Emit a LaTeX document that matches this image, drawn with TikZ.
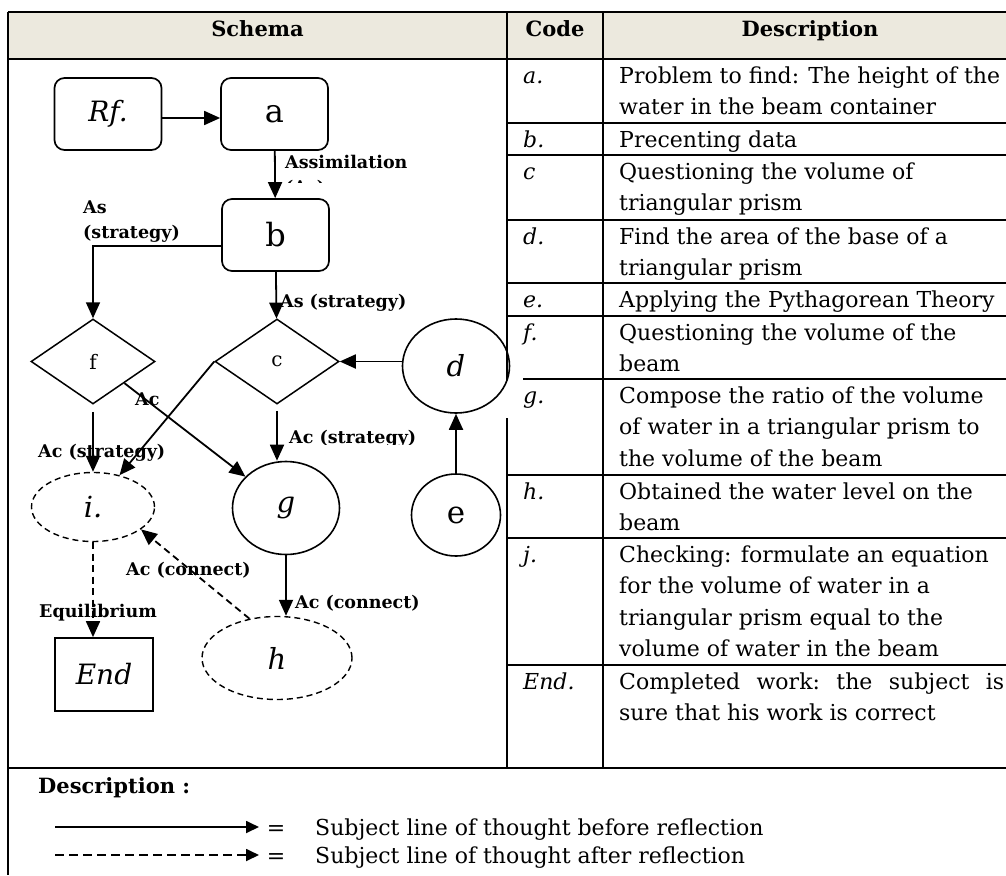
\documentclass[tikz,border=0pt]{standalone}
\usepackage{fontspec}
\setmainfont{DejaVu Serif}
\usetikzlibrary{arrows.meta,shapes.geometric,positioning}

\definecolor{headfill}{RGB}{236,233,222}

\tikzset{
  flow/.style={line width=1.8pt, -{Triangle[length=16pt,width=14pt]}},
  flowdash/.style={flow, dash pattern=on 7pt off 4.5pt},
  box/.style={draw, line width=1.7pt, rounded corners=10pt, minimum width=107pt,
    minimum height=72pt, inner sep=0pt, font=\fontsize{32}{34}\selectfont},
  choice/.style={diamond, draw, line width=1.5pt, aspect=1.45, minimum width=124pt,
    minimum height=85pt, inner sep=0pt, font=\fontsize{20}{22}\selectfont},
  state/.style={ellipse, draw, line width=1.6pt, inner sep=0pt, font=\fontsize{29}{31}\selectfont},
  revisit/.style={state, line width=1.4pt, dash pattern=on 6pt off 4pt},
  lbl/.style={anchor=base west, align=left, inner sep=0pt, font=\bfseries\fontsize{17.5}{25}\selectfont},
  head/.style={anchor=base, inner sep=0pt, font=\bfseries\fontsize{21}{24}\selectfont},
  cell/.style={anchor=base west, align=left, inner sep=0pt, font=\fontsize{22}{31.5}\selectfont},
  code/.style={cell, font=\itshape\fontsize{22}{31.5}\selectfont},
  rule/.style={line width=1.7pt}
}

\begin{document}
\begin{tikzpicture}[x=1pt, y=-1pt]
  \useasboundingbox (0,0) rectangle (1006,875);

  % table frame
  \fill[headfill] (8,12) rectangle (1006,59);
  \draw[rule] (8,12) -- (1006,12);
  \draw[rule] (8,12) -- (8,875);
  \draw[rule] (8,59) -- (1006,59);
  \draw[rule] (8,768) -- (1006,768);
  \draw[rule] (507,12) -- (507,380);
  \draw[rule] (507,418) -- (507,768);
  \draw[rule] (603,12) -- (603,768);
  \draw[rule] (507,123) -- (1006,123);
  \draw[rule] (507,155) -- (1006,155);
  \draw[rule] (507,220) -- (1006,220);
  \draw[rule] (507,283) -- (1006,283);
  \draw[rule] (507,316) -- (1006,316);
  \draw[rule] (523,379) -- (1006,379);
  \draw[rule] (507,475) -- (1006,475);
  \draw[rule] (507,538) -- (1006,538);
  \draw[rule] (507,665) -- (1006,665);

  \node[head] (hschema) at (257.5,37) {Schema};
  \node[head] (hcode) at (555,37) {Code};
  \node[head] (hdesc) at (810,37) {Description};

  % schema
  \node[box, font=\itshape\fontsize{28}{30}\selectfont] (Rf) at (108,114) {Rf.};
  \node[box] (a) at (274.5,114) {a};
  \node[box] (b) at (275.5,235) {b};
  \node[choice] (f) at (93,361.5) {f};
  \node[choice] (c) at (277,361.5) {c};
  \node[state, minimum width=107pt, minimum height=94pt] (d) at (456,366) {\itshape d};
  \node[state, minimum width=89pt, minimum height=82pt, font=\fontsize{31}{33}\selectfont] (e) at (456,515) {e};
  \node[state, minimum width=107pt, minimum height=93pt] (g) at (286,508) {\itshape g};
  \node[revisit, minimum width=123pt, minimum height=69pt] (i) at (93,507) {\itshape i.};
  \node[revisit, minimum width=150pt, minimum height=83pt] (h) at (277,658) {\itshape h};
  \node[draw, line width=1.7pt, minimum width=98pt, minimum height=73pt, inner sep=0pt,
    font=\itshape\fontsize{28}{30}\selectfont] (End) at (104,674.5) {End};

  \draw[flow] ([yshift=-4pt]Rf.east) -- ([yshift=-4pt]a.west);
  \draw[flow] (a) -- (b);
  \draw[flow] ([yshift=-11pt]b.west) -| (f.north);
  \draw[flow] (b) -- (c);
  \draw[flow] (d.west |- c.east) -- (c.east);
  \draw[flow] (e) -- (d);
  \draw[flow, shorten <=7pt] (f.south) -- (i.north);
  \draw[flow] (f.south east) -- (g);
  \draw[flow] (c.west) -- (i);
  \draw[flow, shorten <=6pt] (c.south) -- (c.south |- g.north);
  \draw[flow] (g.south) -- (g.south |- h.north);
  \draw[flowdash] (h.125) -- (i.-25);
  \draw[flowdash] (i.south) -- (i.south |- End.north);

  \begin{scope}
    \clip (280,140) rectangle (430,182);
    \node[lbl] (assim) at (285,193) {Assimilation\\(As)};
  \end{scope}
  \node[lbl] (asb) at (83,238) {As\\(strategy)};
  \node[lbl] (asc) at (280,307) {As (strategy)};
  \node[lbl] (acf) at (135,405) {Ac};
  \node[lbl] (acfi) at (38,457) {Ac (strategy)};
  \begin{scope}
    \clip (285,415) rectangle (430,444);
    \node[lbl] (acg) at (289,443) {Ac (strategy)};
  \end{scope}
  \node[lbl] (aci) at (126,575) {Ac (connect)};
  \node[lbl] (equi) at (39,617) {Equilibrium};
  \node[lbl] (ach) at (295,608) {Ac (connect)};

  % codes and descriptions (base = last line)
  \node[code] (ca) at (523,83) {a.};
  \node[cell] (ta) at (619,114.5) {Problem to find: The height of the\\water in the beam container};
  \node[code] (cb) at (523,147) {b.};
  \node[cell] (tb) at (619,147) {Precenting data};
  \node[code] (cc) at (523,179) {c};
  \node[cell] (tc) at (619,210.5) {Questioning the volume of\\triangular prism};
  \node[code] (cd) at (523,244) {d.};
  \node[cell] (td) at (619,275.5) {Find the area of the base of a\\triangular prism};
  \node[code] (ce) at (523,307) {e.};
  \node[cell] (te) at (619,307) {Applying the Pythagorean Theory};
  \node[code] (cf) at (523,340) {f.};
  \node[cell] (tf) at (619,371.5) {Questioning the volume of the\\beam};
  \node[code] (cg) at (523,403) {g.};
  \node[cell] (tg) at (619,466) {Compose the ratio of the volume\\of water in a triangular prism to\\the volume of the beam};
  \node[code] (ch) at (523,499) {h.};
  \node[cell] (th) at (619,530.5) {Obtained the water level on the\\beam};
  \node[code] (cj) at (523,562) {j.};
  \node[cell] (tj) at (619,656.5) {Checking: formulate an equation\\for the volume of water in a\\triangular prism equal to the\\volume of water in the beam};
  \node[code] (cend) at (523,689) {End.};
  \node[cell] (tend) at (619,720.5) {\hbox to 385pt{Completed\hfil work:\hfil the\hfil subject\hfil is}\\sure that his work is correct};

  % legend
  \node[anchor=base west, inner sep=0pt, font=\bfseries\fontsize{21}{24}\selectfont] (legend) at (38,793) {Description :};
  \coordinate (s0) at (55,827);
  \coordinate (s1) at (259,827);
  \coordinate (t0) at (55,855);
  \coordinate (t1) at (259,855);
  \draw[flow, -{Triangle[length=13pt,width=12pt]}] (s0) -- (s1);
  \draw[flowdash, dash pattern=on 9pt off 5pt, -{Triangle[length=13pt,width=12pt]}] (t0) -- (t1);
  \node[cell, anchor=base] (eq1) at (276,835) {=};
  \node[cell, anchor=base] (eq2) at (276,863) {=};
  \node[cell] (before) at (315,835) {Subject line of thought before reflection};
  \node[cell] (after) at (315,863) {Subject line of thought after reflection};
\end{tikzpicture}
\end{document}
